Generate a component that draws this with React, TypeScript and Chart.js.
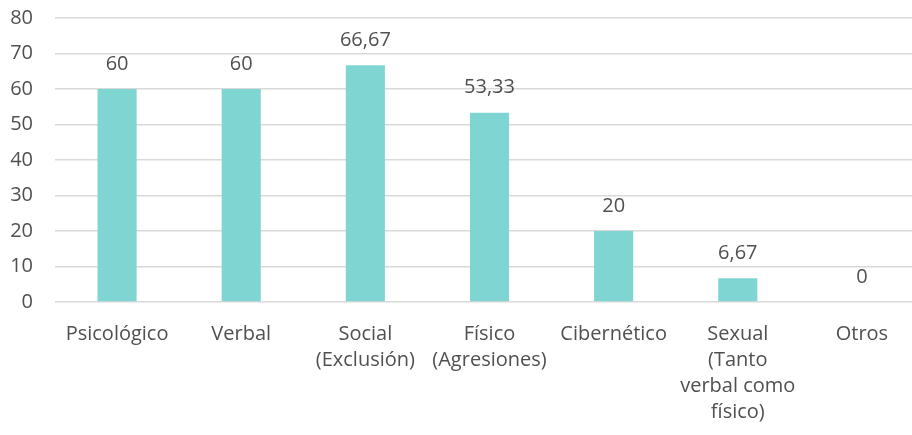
import React, { useEffect, useRef } from "react";
import { Chart, registerables } from "chart.js";

Chart.register(...registerables);

const categories: (string | string[])[] = [
  "Psicológico",
  "Verbal",
  ["Social", "(Exclusión)"],
  ["Físico", "(Agresiones)"],
  "Cibernético",
  ["Sexual", "(Tanto", "verbal como", "físico)"],
  "Otros",
];
const values: number[] = [60, 60, 66.67, 53.33, 20, 6.67, 0];
const valueLabels: string[] = ["60", "60", "66,67", "53,33", "20", "6,67", "0"];
const yTicks: number[] = [0, 10, 20, 30, 40, 50, 60, 70, 80];

const FONT = "'Open Sans', 'Noto Sans', sans-serif";
const TEXT = "#505050";

const labelPlugin = {
  id: "valueLabels",
  afterDatasetsDraw(chart: any) {
    const ctx = chart.ctx;
    const meta = chart.getDatasetMeta(0);
    ctx.save();
    ctx.font = `20px ${FONT}`;
    ctx.fillStyle = TEXT;
    ctx.textAlign = "center";
    ctx.textBaseline = "middle";
    meta.data.forEach((bar: any, i: number) => {
      ctx.fillText(valueLabels[i], bar.x, bar.y - 25);
    });
    ctx.restore();
  },
};

export default function App() {
  const ref = useRef<HTMLCanvasElement>(null);
  useEffect(() => {
    if (!ref.current) return;
    const chart = new Chart(ref.current, {
      type: "bar",
      data: {
        labels: categories,
        datasets: [
          {
            data: values,
            backgroundColor: "#7fd5d1",
            borderWidth: 0,
            barPercentage: 0.315,
            categoryPercentage: 1,
          },
        ],
      },
      options: {
        animation: false,
        responsive: false,
        maintainAspectRatio: false,
        layout: { padding: { top: 18, left: 0, right: 0, bottom: 0 } },
        plugins: { legend: { display: false }, tooltip: { enabled: false } },
        scales: {
          x: {
            grid: { display: false, drawTicks: false },
            border: { display: false },
            ticks: {
              color: TEXT,
              font: { family: FONT, size: 20, lineHeight: 1.3 },
              padding: 19,
              maxRotation: 0,
              autoSkip: false,
            },
            afterFit(scale: any) {
              scale.height = 133;
              scale.paddingTop = 0;
              scale.paddingBottom = 0;
            },
          },
          y: {
            min: 0,
            max: 80,
            afterBuildTicks(scale: any) {
              scale.ticks = yTicks.map((v) => ({ value: v }));
            },
            grid: { color: "#d9d9d9", lineWidth: 1.5, drawTicks: false },
            border: { display: false },
            ticks: {
              color: TEXT,
              font: { family: FONT, size: 20 },
              padding: 22,
            },
            afterFit(scale: any) {
              scale.width = 55;
              scale.paddingTop = 0;
              scale.paddingBottom = 0;
            },
          },
        },
      },
      plugins: [labelPlugin],
    });
    return () => chart.destroy();
  }, []);
  return (
    <div style={{ position: "absolute", left: 0, top: 0, width: 912, height: 435, overflow: "hidden", background: "#fff" }}>
      <canvas ref={ref} width={924} height={435} style={{ width: 924, height: 435 }} />
    </div>
  );
}
